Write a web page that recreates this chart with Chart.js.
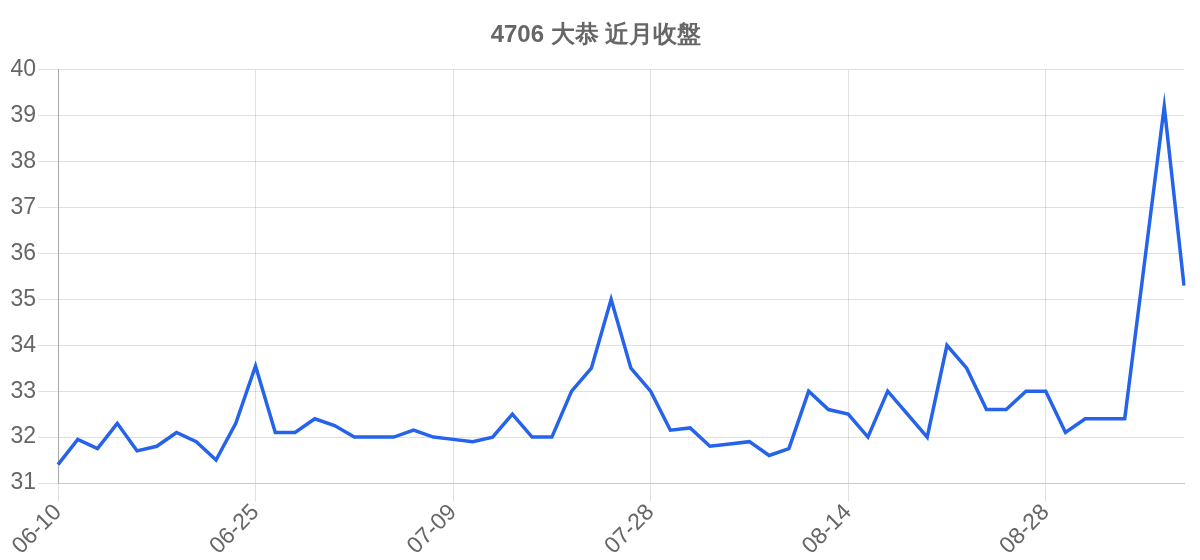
<!DOCTYPE html>
<html>
<head>
<meta charset="utf-8">
<title>4706 大恭 近月收盤</title>
<script src="https://cdn.jsdelivr.net/npm/chart.js@4.4.1/dist/chart.umd.min.js"></script>
<style>
  html, body { margin: 0; padding: 0; background: #fff; }
  #wrap { width: 1200px; height: 560px; }
</style>
</head>
<body>
<div id="wrap"><canvas id="priceChart"></canvas></div>
<script>
// trading days (MM-DD)
const dates = [
    '06-10', '06-11', '06-12', '06-13', '06-16', '06-17', '06-18', '06-19', '06-20', '06-23',
    '06-25', '06-26', '06-27', '06-30', '07-01', '07-02', '07-03', '07-04', '07-07', '07-08',
    '07-09', '07-10', '07-11', '07-14', '07-15', '07-16', '07-17', '07-18', '07-21', '07-22',
    '07-28', '07-29', '07-30', '07-31', '08-01', '08-04', '08-05', '08-06', '08-07', '08-08',
    '08-14', '08-15', '08-18', '08-19', '08-20', '08-21', '08-22', '08-25', '08-26', '08-27',
    '08-28', '08-29', '09-01', '09-02', '09-03', '09-04', '09-05', '09-08'
];

// closing prices
const closes = [
    31.4, 31.95, 31.75, 32.3, 31.7, 31.8, 32.1, 31.9, 31.5, 32.3,
    33.55, 32.1, 32.1, 32.4, 32.25, 32.0, 32.0, 32.0, 32.15, 32.0,
    31.95, 31.9, 32.0, 32.5, 32.0, 32.0, 33.0, 33.5, 35.0, 33.5,
    33.0, 32.15, 32.2, 31.8, 31.85, 31.9, 31.6, 31.75, 33.0, 32.6,
    32.5, 32.0, 33.0, 32.5, 32.0, 34.0, 33.5, 32.6, 32.6, 33.0,
    33.0, 32.1, 32.4, 32.4, 32.4, 35.8, 39.2, 35.3
];

// dates that get a label and a vertical grid line
const shownTicks = ['06-10', '06-25', '07-09', '07-28', '08-14', '08-28'];

const tickFont = { family: 'Liberation Sans, Arial, sans-serif', size: 23 };

const ctx = document.getElementById('priceChart').getContext('2d');
new Chart(ctx, {
    type: 'line',
    data: {
        labels: dates,
        datasets: [{
            label: '收盤',
            data: closes,
            borderColor: '#2563eb',
            borderWidth: 3.5,
            pointRadius: 0,
            pointHoverRadius: 0,
            tension: 0,
            fill: false
        }]
    },
    options: {
        responsive: true,
        maintainAspectRatio: false,
        animation: false,
        layout: {
            padding: { left: 8, right: 16, top: 4, bottom: 0 }
        },
        plugins: {
            legend: { display: false },
            tooltip: { enabled: false },
            title: {
                display: true,
                text: '4706 大恭 近月收盤',
                color: '#666',
                font: { family: 'Liberation Sans, Arial, sans-serif', size: 24, weight: 'bold' },
                padding: { top: 17, bottom: 20 }
            }
        },
        scales: {
            x: {
                offset: false,
                grid: { color: 'rgba(0,0,0,0.12)', tickLength: 18 },
                border: { color: '#c8c8c8' },
                ticks: {
                    autoSkip: false,
                    maxRotation: 45,
                    minRotation: 45,
                    padding: -2,
                    color: '#666',
                    font: tickFont,
                    callback: function (value) {
                        const d = this.getLabelForValue(value);
                        return shownTicks.includes(d) ? d : null;
                    }
                },
                afterFit: function (axis) { axis.height = 77; }
            },
            y: {
                min: 31,
                max: 40,
                grid: { color: 'rgba(0,0,0,0.12)', tickLength: 20 },
                border: { color: '#aaa' },
                ticks: {
                    stepSize: 1,
                    padding: 2,
                    color: '#666',
                    font: tickFont
                },
                afterFit: function (axis) { axis.width = 50; }
            }
        }
    }
});
</script>
</body>
</html>
